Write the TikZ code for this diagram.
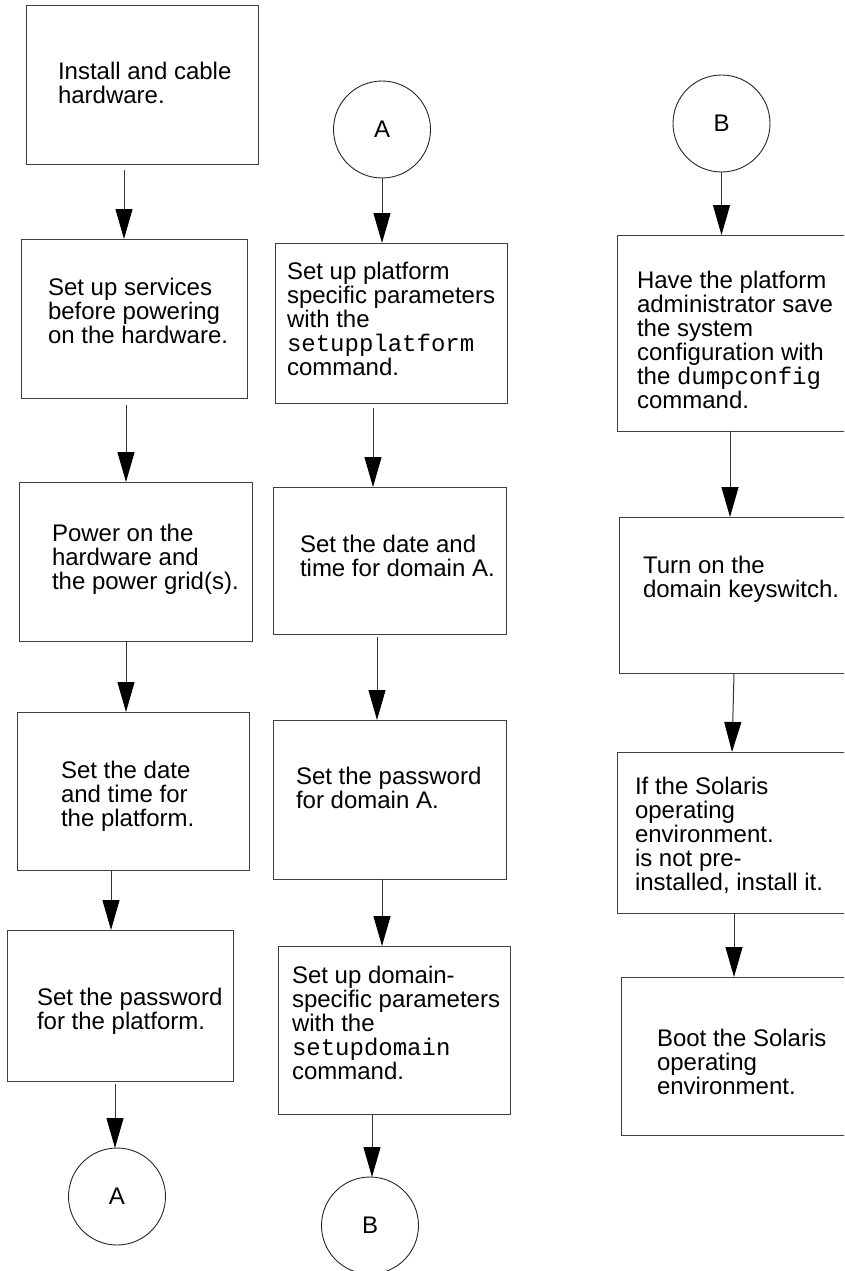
\documentclass[tikz,border=0pt]{standalone}
\usepackage{fontspec}
\setmainfont{Liberation Sans}
\setmonofont{Liberation Mono}
\usetikzlibrary{arrows.meta,fit}

\tikzset{
  stepbox/.style={draw=black!75, line width=1pt, inner sep=0pt, outer sep=0pt, rectangle},
  txt/.style={anchor=north west, align=left, inner sep=0pt, outer sep=0pt,
              font=\fontsize{24}{24}\selectfont},
  conn/.style={draw=black!85, circle, minimum size=97pt, inner sep=0pt, outer sep=0pt,
               line width=0.9pt, font=\fontsize{24}{24}\selectfont},
  flow/.style={draw=black!80, line width=1pt,
               -{Triangle[length=30pt,width=17pt,color=black]}}
}

\begin{document}
\begin{tikzpicture}[x=1pt,y=-1pt]
\useasboundingbox (0,0) rectangle (844,1271);
\clip (0,0) rectangle (844,1271);

% ---- first column: hardware and platform set-up
\node[stepbox, fit={(26,6) (258,164)}] (b1) {};
\node[stepbox, fit={(21,239) (247,398)}] (b2) {};
\node[stepbox, fit={(19,482) (252,641)}] (b3) {};
\node[stepbox, fit={(17,712) (249,870)}] (b4) {};
\node[stepbox, fit={(7,930) (233,1081)}] (b5) {};
\node[conn] (outA) at (117,1196.5) {A};

\node[txt] (t1) at (58,62) {Install and cable\\hardware.};
\node[txt] (t2) at (48,278) {Set up services\\before powering\\on the hardware.};
\node[txt] (t3) at (52,524) {Power on the\\hardware and\\the power grid(s).};
\node[txt] (t4) at (61,761) {Set the date\\and time for\\the platform.};
\node[txt] (t5) at (37,988) {Set the password\\for the platform.};

\draw[flow] ([xshift=-18pt,yshift=-6pt]b1.south) -- ([xshift=-18pt]b1.south |- b2.north);
\draw[flow] ([xshift=-8pt,yshift=-7pt]b2.south) -- ([xshift=-8pt]b2.south |- b3.north);
\draw[flow] ([xshift=-9.5pt]b3.south) -- ([xshift=-9.5pt]b3.south |- b4.north);
\draw[flow] ([xshift=-22pt]b4.south) -- ([xshift=-22pt]b4.south |- b5.north);
\draw[flow] ([xshift=-5pt,yshift=-3pt]b5.south) -- ([xshift=-5pt]b5.south |- outA.north);

% ---- second column: domain A set-up
\node[conn] (inA) at (382,129.5) {A};
\node[stepbox, fit={(275,243) (507,403)}] (c1) {};
\node[stepbox, fit={(273,487) (506,634)}] (c2) {};
\node[stepbox, fit={(273,720) (506,879)}] (c3) {};
\node[stepbox, fit={(278,946) (510,1114)}] (c4) {};
\node[conn] (outB) at (370,1225.5) {B};

\node[txt] (u1) at (287,262) {Set up platform\\specific parameters\\with the\\\texttt{setupplatform}\\command.};
\node[txt] (u2) at (300,535) {Set the date and\\time for domain A.};
\node[txt] (u3) at (296,767) {Set the password\\for domain A.};
\node[txt] (u4) at (292,966) {Set up domain-\\specific parameters\\with the\\\texttt{setupdomain}\\command.};

\draw[flow] (inA.south) -- (inA.south |- c1.north);
\draw[flow] ([xshift=-18pt,yshift=-5pt]c1.south) -- ([xshift=-18pt]c1.south |- c2.north);
\draw[flow] ([xshift=-12.5pt,yshift=-3pt]c2.south) -- ([xshift=-12.5pt]c2.south |- c3.north);
\draw[flow] ([xshift=-7.5pt]c3.south) -- ([xshift=-7.5pt]c3.south |- c4.north);
\draw[flow] ([xshift=-22pt]c4.south) -- ([xshift=-22pt]c4.south |- outB.north);

% ---- third column: domain boot
\node[conn] (inB) at (721.5,123.5) {B};
\node[stepbox, fit={(617,235) (850,431)}] (d1) {};
\node[stepbox, fit={(619,517) (850,673)}] (d2) {};
\node[stepbox, fit={(617,752) (850,913)}] (d3) {};
\node[stepbox, fit={(621,977) (850,1135)}] (d4) {};

\node[txt] (v1) at (637,271) {Have the platform\\administrator save\\the system\\configuration with\\the \texttt{dumpconfig}\\command.};
\node[txt] (v2) at (643,556) {Turn on the\\domain keyswitch.};
\node[txt] (v3) at (635,777) {If the Solaris\\operating\\environment.\\is not pre-\\installed, install it.};
\node[txt] (v4) at (657,1029) {Boot the Solaris\\operating\\environment.};

\draw[flow] (inB.south) -- (inB.south |- d1.north);
\draw[flow] ([xshift=-3.5pt]d1.south) -- ([xshift=-3.5pt]d1.south |- d2.north);
\draw[flow] ([xshift=-0.5pt]d2.south) -- ([xshift=-1.5pt]d3.north);
\draw[flow] ([xshift=0.5pt]d3.south) -- ([xshift=0.5pt]d3.south |- d4.north);
\end{tikzpicture}
\end{document}
